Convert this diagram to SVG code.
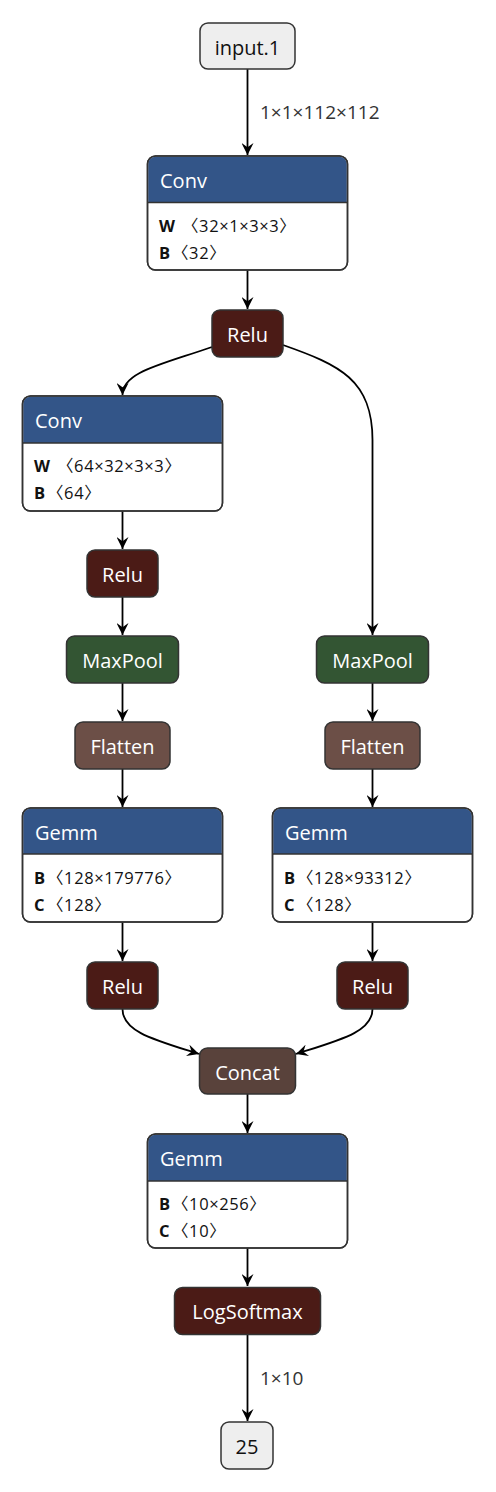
<svg xmlns="http://www.w3.org/2000/svg" width="496" height="1492" viewBox="0 0 496 1492">
<style>
.box{stroke:#333;stroke-width:1.5}
.io{fill:#eeeeee}
.layer{fill:#335588}
.act{fill:#4b1b16}
.pool{fill:#335533}
.shape{fill:#6c4f47}
.tensor{fill:#59423b}
.body{fill:#ffffff}
.t{font-family:"Open Sans","Noto Sans",sans-serif;font-size:20px}
.w{fill:#ffffff}
.k{fill:#111}
.a{font-family:"Open Sans","Noto Sans","Noto Sans CJK SC",sans-serif;font-size:16.5px;fill:#111}
.v{letter-spacing:0.6px}
.b{font-weight:bold}
.lbl{font-family:"Open Sans","Noto Sans",sans-serif;font-size:19px;fill:#333}
.e{fill:none;stroke:#000;stroke-width:1.8;marker-end:url(#arr)}
</style>
<defs>
<marker id="arr" markerUnits="userSpaceOnUse" markerWidth="12" markerHeight="12" viewBox="0 0 10 10" refX="10" refY="5" orient="auto">
<path d="M0,0 L10,5 L0,10 L3.5,5 z" fill="#000"/>
</marker>
</defs>
<g id="edges">
<path class="e" d="M247.5,69 L247.5,155"/>
<text class="lbl" x="260" y="119">1×1×112×112</text>
<path class="e" d="M247.5,270 L247.5,309"/>
<path class="e" d="M212,347 C160,365 122.5,372 122.5,395"/>
<path class="e" d="M283,345 C340,365 372.5,380 372.5,440 L372.5,635"/>
<path class="e" d="M122.5,511 L122.5,549"/>
<path class="e" d="M122.5,597 L122.5,635"/>
<path class="e" d="M122.5,683 L122.5,721"/>
<path class="e" d="M122.5,769 L122.5,807"/>
<path class="e" d="M372.5,683 L372.5,721"/>
<path class="e" d="M372.5,769 L372.5,807"/>
<path class="e" d="M122.5,922 L122.5,961"/>
<path class="e" d="M372.5,922 L372.5,961"/>
<path class="e" d="M122.5,1009 C122.5,1032 155,1040 199,1054"/>
<path class="e" d="M372.5,1009 C372.5,1032 340,1040 296,1054"/>
<path class="e" d="M247.5,1094 L247.5,1133"/>
<path class="e" d="M247.5,1248 L247.5,1286"/>
<path class="e" d="M247.5,1334 L247.5,1421"/>
<text class="lbl" x="260" y="1385">1×10</text>
</g>
<g id="input1">
<rect class="box io" x="200" y="23" width="95" height="46" rx="8"/>
<text class="t k" x="247.5" y="55" text-anchor="middle">input.1</text>
</g>
<g id="conv1">
<rect class="box body" x="147.5" y="156" width="200" height="114" rx="8"/>
<path class="layer" d="M148.25,202.5 V164 a7.25,7.25 0 0 1 7.25,-7.25 H339.5 a7.25,7.25 0 0 1 7.25,7.25 V202.5 z"/>
<line x1="147.5" y1="202.5" x2="347.5" y2="202.5" stroke="#333" stroke-width="1.5"/>
<rect x="147.5" y="156" width="200" height="114" rx="8" fill="none" stroke="#333" stroke-width="1.5"/>
<text class="t w" x="160" y="188">Conv</text>
<text class="a" x="159" y="232"><tspan class="b">W</tspan><tspan class="v" x="182">〈32×1×3×3〉</tspan></text>
<text class="a" x="159" y="259"><tspan class="b">B</tspan><tspan class="v" x="172">〈32〉</tspan></text>
</g>
<g id="relu1">
<rect class="box act" x="212" y="310" width="71" height="47" rx="8"/>
<text class="t w" x="247.5" y="342" text-anchor="middle">Relu</text>
</g>
<g id="conv2">
<rect class="box body" x="22.5" y="396" width="200" height="115" rx="8"/>
<path class="layer" d="M23.25,443 V404 a7.25,7.25 0 0 1 7.25,-7.25 H214.5 a7.25,7.25 0 0 1 7.25,7.25 V443 z"/>
<line x1="22.5" y1="443" x2="222.5" y2="443" stroke="#333" stroke-width="1.5"/>
<rect x="22.5" y="396" width="200" height="115" rx="8" fill="none" stroke="#333" stroke-width="1.5"/>
<text class="t w" x="35" y="428">Conv</text>
<text class="a" x="34" y="472"><tspan class="b">W</tspan><tspan class="v" x="57">〈64×32×3×3〉</tspan></text>
<text class="a" x="34" y="499"><tspan class="b">B</tspan><tspan class="v" x="47">〈64〉</tspan></text>
</g>
<g id="relu2">
<rect class="box act" x="87" y="550" width="71" height="47" rx="8"/>
<text class="t w" x="122.5" y="582" text-anchor="middle">Relu</text>
</g>
<g id="maxpool1">
<rect class="box pool" x="66.5" y="636" width="112" height="47" rx="8"/>
<text class="t w" x="122.5" y="668" text-anchor="middle">MaxPool</text>
</g>
<g id="flatten1">
<rect class="box shape" x="75" y="722" width="95" height="47" rx="8"/>
<text class="t w" x="122.5" y="754" text-anchor="middle">Flatten</text>
</g>
<g id="gemm1">
<rect class="box body" x="22.5" y="808" width="200" height="114" rx="8"/>
<path class="layer" d="M23.25,854 V816 a7.25,7.25 0 0 1 7.25,-7.25 H214.5 a7.25,7.25 0 0 1 7.25,7.25 V854 z"/>
<line x1="22.5" y1="854" x2="222.5" y2="854" stroke="#333" stroke-width="1.5"/>
<rect x="22.5" y="808" width="200" height="114" rx="8" fill="none" stroke="#333" stroke-width="1.5"/>
<text class="t w" x="35" y="840">Gemm</text>
<text class="a" x="34" y="884"><tspan class="b">B</tspan><tspan class="v" x="47">〈128×179776〉</tspan></text>
<text class="a" x="34" y="911"><tspan class="b">C</tspan><tspan class="v" x="47">〈128〉</tspan></text>
</g>
<g id="relu3">
<rect class="box act" x="87" y="962" width="71" height="47" rx="8"/>
<text class="t w" x="122.5" y="994" text-anchor="middle">Relu</text>
</g>
<g id="maxpool2">
<rect class="box pool" x="316.5" y="636" width="112" height="47" rx="8"/>
<text class="t w" x="372.5" y="668" text-anchor="middle">MaxPool</text>
</g>
<g id="flatten2">
<rect class="box shape" x="325" y="722" width="95" height="47" rx="8"/>
<text class="t w" x="372.5" y="754" text-anchor="middle">Flatten</text>
</g>
<g id="gemm2">
<rect class="box body" x="272.5" y="808" width="200" height="114" rx="8"/>
<path class="layer" d="M273.25,854 V816 a7.25,7.25 0 0 1 7.25,-7.25 H464.5 a7.25,7.25 0 0 1 7.25,7.25 V854 z"/>
<line x1="272.5" y1="854" x2="472.5" y2="854" stroke="#333" stroke-width="1.5"/>
<rect x="272.5" y="808" width="200" height="114" rx="8" fill="none" stroke="#333" stroke-width="1.5"/>
<text class="t w" x="285" y="840">Gemm</text>
<text class="a" x="284" y="884"><tspan class="b">B</tspan><tspan class="v" x="297">〈128×93312〉</tspan></text>
<text class="a" x="284" y="911"><tspan class="b">C</tspan><tspan class="v" x="297">〈128〉</tspan></text>
</g>
<g id="relu4">
<rect class="box act" x="337" y="962" width="71" height="47" rx="8"/>
<text class="t w" x="372.5" y="994" text-anchor="middle">Relu</text>
</g>
<g id="concat">
<rect class="box tensor" x="199.5" y="1048" width="96" height="46" rx="8"/>
<text class="t w" x="247.5" y="1080" text-anchor="middle">Concat</text>
</g>
<g id="gemm3">
<rect class="box body" x="147.5" y="1134" width="200" height="114" rx="8"/>
<path class="layer" d="M148.25,1181 V1142 a7.25,7.25 0 0 1 7.25,-7.25 H339.5 a7.25,7.25 0 0 1 7.25,7.25 V1181 z"/>
<line x1="147.5" y1="1181" x2="347.5" y2="1181" stroke="#333" stroke-width="1.5"/>
<rect x="147.5" y="1134" width="200" height="114" rx="8" fill="none" stroke="#333" stroke-width="1.5"/>
<text class="t w" x="160" y="1166">Gemm</text>
<text class="a" x="159" y="1210"><tspan class="b">B</tspan><tspan class="v" x="172">〈10×256〉</tspan></text>
<text class="a" x="159" y="1237"><tspan class="b">C</tspan><tspan class="v" x="172">〈10〉</tspan></text>
</g>
<g id="logsoftmax">
<rect class="box act" x="174.5" y="1287.5" width="146" height="47" rx="8"/>
<text class="t w" x="247.5" y="1319" text-anchor="middle">LogSoftmax</text>
</g>
<g id="out25">
<rect class="box io" x="221" y="1422" width="52" height="47" rx="8"/>
<text class="t k" x="247" y="1454" text-anchor="middle">25</text>
</g>
</svg>
